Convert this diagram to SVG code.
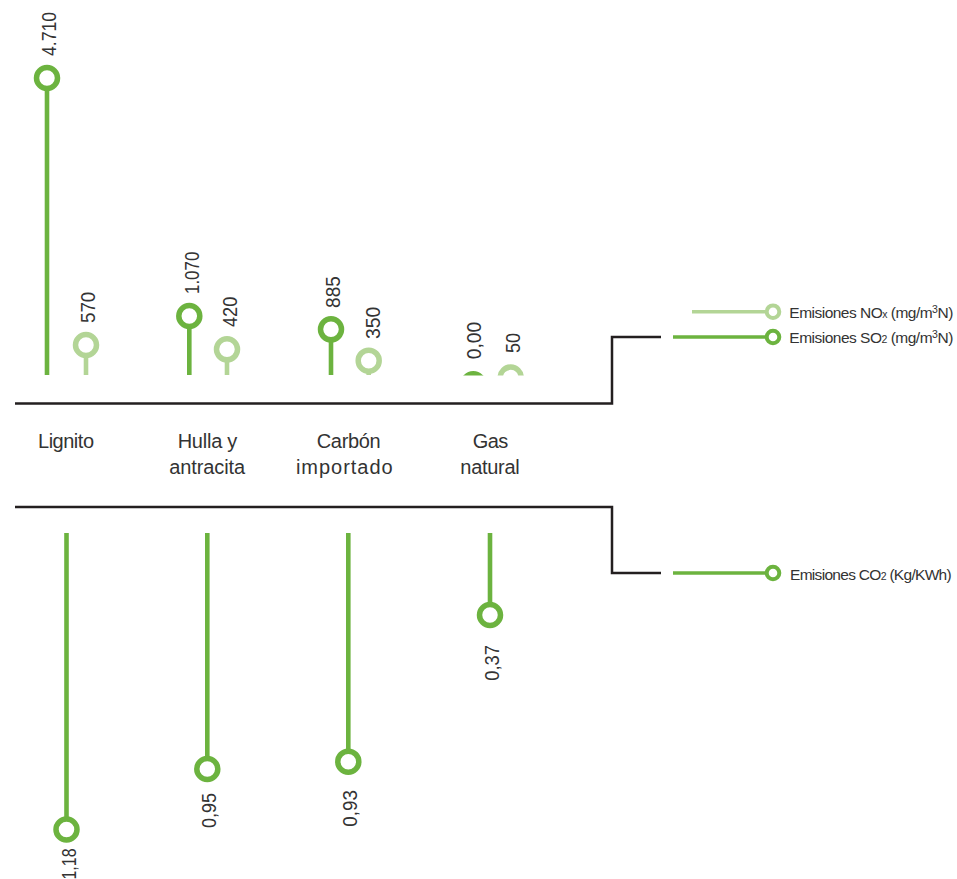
<svg xmlns="http://www.w3.org/2000/svg" width="957" height="879" viewBox="0 0 957 879">
<style>
.axis{fill:none;stroke:#231f20;stroke-width:2.5}
.so2{stroke:#6cb33f}
.nox{stroke:#b3d596}
.stem{stroke-width:4.6;fill:none}
.dot{fill:#fff;stroke-width:5.5}
.lg{stroke-width:3.5;fill:none}
.ldot{fill:#fff;stroke-width:4}
.val{font-family:"Liberation Sans",Arial,sans-serif;font-size:21px;fill:#333}
.cat{font-family:"Liberation Sans",Arial,sans-serif;font-size:20px;fill:#333;text-anchor:middle}
.leg{font-family:"Liberation Sans",Arial,sans-serif;font-size:15.5px;fill:#333}
</style>
<defs>
<clipPath id="above"><rect x="0" y="0" width="957" height="375.5"/></clipPath>
</defs>
<rect width="957" height="879" fill="#fff"/>

<g id="connectors">
<path class="axis" d="M15 403.5 H612 V337 H661"/>
<path class="axis" d="M15 507 H612 V573 H661"/>
</g>

<g id="lignito">
<line class="stem so2" x1="47" y1="375" x2="47" y2="78"/>
<circle class="dot so2" cx="47" cy="78" r="10.5"/>
<text class="val" transform="translate(56,56) rotate(-90)" textLength="44" lengthAdjust="spacingAndGlyphs">4.710</text>
<line class="stem nox" x1="86" y1="375" x2="86" y2="345"/>
<circle class="dot nox" cx="86" cy="345" r="10.5"/>
<text class="val" transform="translate(94.5,323) rotate(-90)" textLength="31.3" lengthAdjust="spacingAndGlyphs">570</text>
<text class="cat" x="66" y="448" textLength="56" lengthAdjust="spacing">Lignito</text>
<line class="stem so2" x1="66.5" y1="533" x2="66.5" y2="829.5"/>
<circle class="dot so2" cx="66.5" cy="829.5" r="10.5"/>
<text class="val" transform="translate(75.5,879.5) rotate(-90)" textLength="31" lengthAdjust="spacingAndGlyphs">1,18</text>
</g>

<g id="hulla">
<line class="stem so2" x1="189.3" y1="375" x2="189.3" y2="316"/>
<circle class="dot so2" cx="189.3" cy="316" r="10.5"/>
<text class="val" transform="translate(198.5,294) rotate(-90)" textLength="42.3" lengthAdjust="spacingAndGlyphs">1.070</text>
<line class="stem nox" x1="227" y1="375" x2="227" y2="349.3"/>
<circle class="dot nox" cx="227" cy="349.3" r="10.5"/>
<text class="val" transform="translate(237,327) rotate(-90)" textLength="30.3" lengthAdjust="spacingAndGlyphs">420</text>
<text class="cat" x="207.5" y="448" textLength="59.7" lengthAdjust="spacing">Hulla y</text>
<text class="cat" x="207.2" y="474" textLength="75.7" lengthAdjust="spacing">antracita</text>
<line class="stem so2" x1="207.3" y1="533" x2="207.3" y2="769"/>
<circle class="dot so2" cx="207.3" cy="769" r="10.5"/>
<text class="val" transform="translate(216,828) rotate(-90)" textLength="35" lengthAdjust="spacingAndGlyphs">0,95</text>
</g>

<g id="carbon">
<line class="stem so2" x1="331" y1="375" x2="331" y2="329.3"/>
<circle class="dot so2" cx="331" cy="329.3" r="10.5"/>
<text class="val" transform="translate(340,308) rotate(-90)" textLength="32" lengthAdjust="spacingAndGlyphs">885</text>
<line class="stem nox" x1="368.7" y1="375" x2="368.7" y2="360.7"/>
<circle class="dot nox" cx="368.7" cy="360.7" r="10.5"/>
<text class="val" transform="translate(379.5,339) rotate(-90)" textLength="32.3" lengthAdjust="spacingAndGlyphs">350</text>
<text class="cat" x="348.7" y="448" textLength="64" lengthAdjust="spacing">Carbón</text>
<text class="cat" x="344.3" y="474" textLength="96.7" lengthAdjust="spacing">importado</text>
<line class="stem so2" x1="348.3" y1="533" x2="348.3" y2="761.7"/>
<circle class="dot so2" cx="348.3" cy="761.7" r="10.5"/>
<text class="val" transform="translate(357,826.7) rotate(-90)" textLength="36.7" lengthAdjust="spacingAndGlyphs">0,93</text>
</g>

<g id="gas">
<g clip-path="url(#above)">
<circle class="dot so2" cx="473.3" cy="384.3" r="10.5"/>
<circle class="dot nox" cx="510.7" cy="377.6" r="10.5"/>
</g>
<text class="val" transform="translate(481,359.3) rotate(-90)" textLength="37.6" lengthAdjust="spacingAndGlyphs">0,00</text>
<text class="val" transform="translate(520,353) rotate(-90)" textLength="20" lengthAdjust="spacingAndGlyphs">50</text>
<text class="cat" x="490.5" y="448" textLength="35.7" lengthAdjust="spacing">Gas</text>
<text class="cat" x="490" y="474" textLength="59.3" lengthAdjust="spacing">natural</text>
<line class="stem so2" x1="490" y1="533" x2="490" y2="615"/>
<circle class="dot so2" cx="490" cy="615" r="10.5"/>
<text class="val" transform="translate(499,680.7) rotate(-90)" textLength="35.7" lengthAdjust="spacingAndGlyphs">0,37</text>
</g>

<g id="legend-nox">
<line class="lg nox" x1="692" y1="311.7" x2="773" y2="311.7"/>
<circle class="ldot nox" cx="773" cy="311.7" r="6.3"/>
<text class="leg" x="789.3" y="318.3" textLength="164" lengthAdjust="spacing">Emisiones NO<tspan font-size="10.5">x</tspan> (mg/m<tspan font-size="10.5" dy="-5">3</tspan><tspan dy="5">N)</tspan></text>
</g>
<g id="legend-so2">
<line class="lg so2" x1="673" y1="337" x2="773" y2="337"/>
<circle class="ldot so2" cx="773" cy="337" r="6.3"/>
<text class="leg" x="789.3" y="343.3" textLength="164" lengthAdjust="spacing">Emisiones SO<tspan font-size="10.5">2</tspan> (mg/m<tspan font-size="10.5" dy="-5">3</tspan><tspan dy="5">N)</tspan></text>
</g>
<g id="legend-co2">
<line class="lg so2" x1="673" y1="573" x2="773" y2="573"/>
<circle class="ldot so2" cx="773" cy="573" r="6.3"/>
<text class="leg" x="790" y="579.5" textLength="161.7" lengthAdjust="spacing">Emisiones CO<tspan font-size="10.5">2</tspan> (Kg/KWh)</text>
</g>
</svg>
